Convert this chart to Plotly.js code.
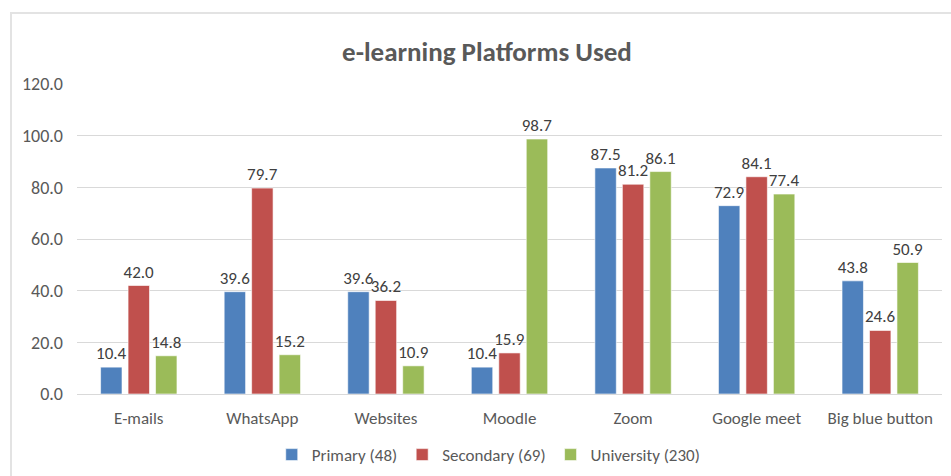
<!DOCTYPE html>
<html><head><meta charset="utf-8">
<script src="https://cdn.plot.ly/plotly-3.0.1.min.js"></script>
<style>
html,body{margin:0;padding:0;background:#fff;overflow:hidden}
#frame{position:absolute;left:10px;top:12px;width:960px;height:480px;border-left:2px solid #e3e3e3;border-top:2px solid #e3e3e3;box-sizing:border-box;pointer-events:none;z-index:5}
#chart{position:absolute;left:0;top:0;width:951px;height:476px}
</style></head>
<body>
<div id="chart"></div>
<div id="frame"></div>
<script>
const categories = ["E-mails","WhatsApp","Websites","Moodle","Zoom","Google meet","Big blue button"];
const seriesNames = ["Primary (48)","Secondary (69)","University (230)"];
const primary = [10.4,39.6,39.6,10.4,87.5,72.9,43.8];
const secondary = [42.0,79.7,36.2,15.9,81.2,84.1,24.6];
const university = [14.8,15.2,10.9,98.7,86.1,77.4,50.9];
const colors = ["#4F81BD","#C0504D","#9BBB59"];
const font = "Calibri, Carlito, 'Open Sans', 'Liberation Sans', sans-serif";
const allVals = [primary, secondary, university];
const traces = allVals.map((v,i)=>({
  type:'bar', name:seriesNames[i], x:categories, y:v,
  marker:{color:colors[i], line:{color:'rgba(255,255,255,0.6)', width:1}},
  text:v.map(d=>d.toFixed(1)), textposition:'outside', cliponaxis:false, constraintext:'none',
  textfont:{family:font, size:17, color:'#404040'}, hoverinfo:'skip'
}));
const layout = {
  width:951, height:476,
  margin:{l:77, r:9, t:84, b:82, autoexpand:false},
  paper_bgcolor:'#fff', plot_bgcolor:'#fff',
  barmode:'group', bargap:0.333, bargroupgap:0.22,
  title:{text:'<b>e-learning Platforms Used</b>', x:0.512, xanchor:'center', y:1-52/476, yref:'container', yanchor:'middle',
    font:{family:font, size:27, color:'#595959'}},
  xaxis:{showgrid:false, showline:true, linecolor:'#d9d9d9', linewidth:1, ticks:'', ticklabelstandoff:9,
    tickfont:{family:font, size:17, color:'#595959'}, automargin:false},
  yaxis:{range:[0,120], dtick:20, tickformat:'.1f', showgrid:true, gridcolor:'#d9d9d9', zeroline:false,
    ticks:'', ticklabelstandoff:13, tickfont:{family:font, size:18, color:'#595959'}, automargin:false},
  showlegend:true,
  legend:{orientation:'h', x:0.476, xanchor:'center', y:-0.197, yanchor:'middle',
    font:{family:font, size:17, color:'#595959'}, itemwidth:30, traceorder:'normal'}
};
Plotly.newPlot('chart', traces, layout, {displayModeBar:false, staticPlot:true});
</script>
</body></html>
